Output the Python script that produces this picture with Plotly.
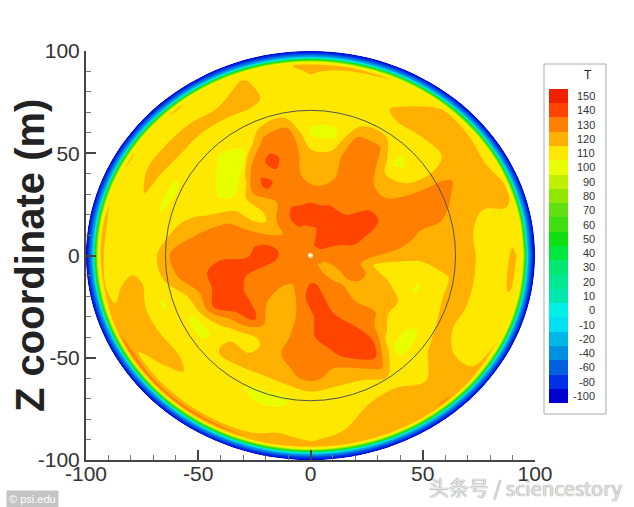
import numpy as np
import plotly.graph_objects as go

# radii in % of the disc, angles in degrees (counter clockwise from +x)
radii_inner = [0, 10, 20, 30, 40, 50, 60, 70, 80, 90]
radii_rim = [94.3, 95, 95.8, 96.4, 97, 98, 99, 100]
T_centre = 130
T_rim = [108, 85, 50, 10, -20, -50, -80, -100]
angles = list(range(0, 360, 10))

# one row per angle, columns are r = 10..90
T_by_angle = [
    [130, 130, 125, 120, 120, 120, 118, 110, 116],  # 0
    [130, 132, 130, 130, 122, 118, 118, 110, 112],
    [132, 138, 132, 130, 130, 130, 120, 118, 118],
    [138, 142, 140, 130, 130, 130, 128, 118, 115],
    [140, 145, 140, 128, 120, 110, 110, 118, 118],
    [140, 142, 130, 130, 118, 102, 110, 118, 118],  # 50
    [140, 140, 130, 130, 132, 128, 110, 118, 110],
    [140, 142, 130, 128, 130, 128, 110, 110, 110],
    [132, 140, 130, 120, 118, 102, 110, 110, 112],
    [130, 142, 130, 120, 118, 103, 110, 110, 116],  # 90
    [130, 140, 130, 128, 130, 132, 112, 110, 110],
    [130, 140, 130, 132, 138, 128, 108, 118, 116],
    [130, 132, 125, 138, 130, 105, 108, 118, 108],
    [130, 128, 120, 125, 103, 103, 108, 118, 110],
    [130, 122, 110, 108, 102, 108, 110, 118, 110],  # 140
    [130, 125, 118, 118, 108, 108, 104, 118, 110],
    [130, 130, 130, 128, 118, 112, 104, 114, 110],
    [130, 140, 130, 130, 128, 118, 108, 106, 110],
    [130, 142, 132, 130, 130, 130, 112, 108, 110],  # 180
    [130, 138, 142, 145, 130, 125, 110, 118, 112],
    [130, 130, 134, 145, 130, 112, 104, 118, 118],
    [130, 130, 130, 142, 135, 104, 108, 118, 116],
    [130, 130, 128, 142, 120, 103, 110, 118, 110],
    [130, 125, 125, 138, 112, 118, 108, 112, 110],  # 230
    [130, 122, 118, 122, 112, 118, 106, 106, 110],
    [130, 125, 116, 118, 122, 118, 104, 106, 112],
    [130, 132, 128, 128, 128, 122, 104, 106, 118],
    [132, 140, 132, 132, 130, 128, 108, 106, 114],  # 270
    [130, 142, 142, 142, 130, 122, 108, 110, 118],
    [130, 130, 135, 142, 142, 122, 108, 118, 120],
    [128, 130, 130, 135, 145, 132, 112, 118, 120],
    [120, 128, 126, 130, 118, 102, 110, 115, 122],
    [122, 122, 120, 122, 108, 103, 116, 118, 118],  # 320
    [122, 128, 122, 120, 110, 112, 118, 108, 108],
    [128, 130, 122, 112, 104, 114, 118, 110, 110],
    [130, 130, 112, 108, 106, 114, 118, 110, 116],
]
# the thin warmer band just inside the rim, at r = 93
radius_band = 93
T_band = [114, 112, 116, 112, 112, 114, 112, 116, 118, 118, 112, 112,
          112, 116, 112, 116, 112, 118, 118, 116, 120, 130, 130, 130,
          130, 126, 120, 118, 120, 120, 122, 126, 122, 116, 112, 112]

legend_levels = [-100, -80, -60, -40, -20, -10, 0, 10, 20, 30, 40, 50, 60, 70, 80, 90, 100, 110, 120, 130, 140, 150]
legend_colors = ['#0000d0', '#0030e8', '#0060e0', '#0090e0', '#00b8e8', '#00e0f0', '#00f0e8', '#00e8b0',
                 '#00e890', '#00e870', '#00e840', '#10e010', '#40e010', '#60e010', '#90e800', '#c0f000',
                 '#e8ff00', '#ffe800', '#ffb000', '#ff8000', '#ff4400', '#f02000']

tick_vals = [-100, -50, 0, 50, 100]
tick_text = ['-100', '-50', '0', '50', '100']
inner_circle_x = 64.6
inner_circle_y = 71
centre_x = [0]
centre_y = [0]

W, H = 634, 507
def px(v): return v/W
def py(v): return 1 - v/H

a = radii_inner + [radius_band] + radii_rim
b = angles + [360]
z = []
for row, band in zip(T_by_angle + [T_by_angle[0]], T_band + [T_band[0]]):
    z.append([T_centre] + row + [band] + T_rim)
theta = np.radians(b)
x = np.outer(np.cos(theta), a)
y = np.outer(np.sin(theta), a)

colorscale = [[(l + 100)/250, c] for l, c in zip(legend_levels, legend_colors)]
hidden = dict(showgrid=False, showticklabels='none', startline=False, endline=False, smoothing=1)

fig = go.Figure()
fig.add_trace(go.Carpet(carpet='disc', a=a, b=b, x=x.tolist(), y=y.tolist(), aaxis=hidden, baxis=hidden))
fig.add_trace(go.Contourcarpet(
    carpet='disc', a=a, b=b, z=z,
    autocontour=False,
    contours=dict(start=-105, end=155, size=10, coloring='fill', showlines=False),
    line=dict(width=0),
    colorscale=colorscale, zmin=-100, zmax=150, showscale=False,
))
fig.add_trace(go.Scatter(
    x=centre_x, y=centre_y, mode='markers',
    marker=dict(color='#fff6d8', size=5, line=dict(color='#ffb060', width=1)),
    showlegend=False,
))
# legend bar
fig.add_trace(go.Bar(
    x=[1]*len(legend_levels), y=[str(l) for l in legend_levels], orientation='h',
    marker=dict(color=legend_colors, line=dict(width=0)), width=1,
    xaxis='x2', yaxis='y2', showlegend=False,
))

axis_style = dict(
    range=[-100, 100], showgrid=False, zeroline=False,
    showline=True, linecolor='#444', linewidth=2,
    ticks='inside', ticklen=10, tickwidth=2, tickcolor='#444',
    minor=dict(dtick=10, ticks='inside', ticklen=5, tickwidth=1, tickcolor='#777'),
    tickfont=dict(family='Liberation Sans', size=21, color='#333'),
    tickmode='array', tickvals=tick_vals, ticktext=tick_text,
)
fig.update_layout(
    width=W, height=H, margin=dict(l=0, r=0, t=0, b=0, autoexpand=False),
    paper_bgcolor='white', plot_bgcolor='white',
    showlegend=False, bargap=0,
    xaxis=dict(domain=[px(86), px(535)], anchor='y', ticklabelstandoff=-6, **axis_style),
    yaxis=dict(domain=[py(460), py(51)], anchor='x', **axis_style),
    xaxis2=dict(domain=[px(549), px(568)], anchor='y2', range=[0, 1], visible=False),
    yaxis2=dict(domain=[py(404), py(88)], anchor='x2', type='category',
                categoryorder='array', categoryarray=[str(l) for l in legend_levels], visible=False),
    shapes=[
        dict(type='circle', xref='x', yref='y', x0=-inner_circle_x, x1=inner_circle_x,
             y0=-inner_circle_y, y1=inner_circle_y, line=dict(color='#555', width=1), layer='above'),
        dict(type='rect', xref='paper', yref='paper', x0=px(544), x1=px(606), y0=py(414), y1=py(64),
             line=dict(color='#aaa', width=1), fillcolor='white', layer='below'),
    ],
)

fig.add_annotation(text='<b>Z coordinate (m)</b>', xref='paper', yref='paper', x=px(30), y=py(256),
                   xanchor='center', yanchor='middle', textangle=-90, showarrow=False,
                   font=dict(family='Liberation Sans', size=40, color='#222'))
fig.add_annotation(text='T', xref='paper', yref='paper', x=px(588), y=py(75), xanchor='center', yanchor='middle',
                   showarrow=False, font=dict(family='Liberation Sans', size=12, color='#222'))
for i, l in enumerate(legend_levels):
    fig.add_annotation(text=str(l), xref='paper', yref='y2', x=px(597), y=i, xanchor='right',
                       showarrow=False, font=dict(family='Liberation Sans', size=11, color='#333'))

# watermarks of the source page
fig.add_annotation(text='© psi.edu', xref='paper', yref='paper', x=px(32), y=py(499), xanchor='center', yanchor='middle',
                   showarrow=False, bgcolor='#c4c4c4', borderpad=2,
                   font=dict(family='Liberation Sans', size=11, color='white'))
fig.add_annotation(text='头条号 / sciencestory', xref='paper', yref='paper', x=px(526), y=py(487),
                   xanchor='center', yanchor='middle', showarrow=False,
                   font=dict(family='Noto Sans CJK SC', size=20, color='#e4e4e4', shadow='0px 0px 1px #555'))

fig.write_html("out.html", config={'displayModeBar': False}, post_script="document.body.style.margin='0';")
